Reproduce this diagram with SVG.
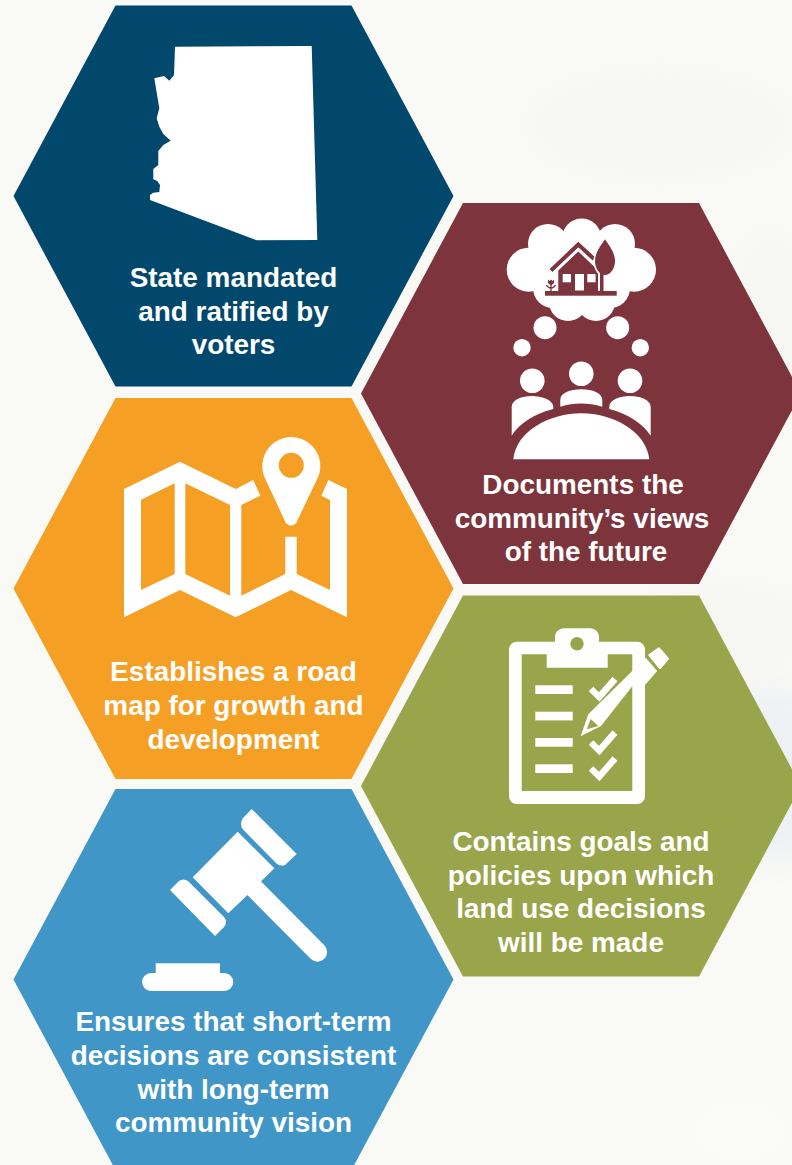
<svg xmlns="http://www.w3.org/2000/svg" width="792" height="1165" viewBox="0 0 792 1165">
<style>
.t{font-family:"Liberation Sans",Arial,sans-serif;font-weight:700;font-size:27.9px;fill:#fff;text-anchor:middle}
.w{fill:#fff}
</style>
<defs>
<polygon id="hex" points="-220,0 -118,-190.500 118,-190.500 220,0 118,190.500 -118,190.500"/>
<filter id="b" x="-50%" y="-50%" width="200%" height="200%"><feGaussianBlur stdDeviation="16"/></filter>
</defs>
<rect width="792" height="1165" fill="#f9f9f6"/>
<g id="background" filter="url(#b)">
<ellipse cx="660" cy="125" rx="130" ry="50" fill="#f6f7f3"/>
<ellipse cx="770" cy="320" rx="35" ry="90" fill="#f6f7f3"/>
<ellipse cx="720" cy="630" rx="90" ry="45" fill="#f6f6f2"/>
<ellipse cx="775" cy="775" rx="80" ry="85" fill="#edf1f4"/>
<ellipse cx="740" cy="1130" rx="50" ry="25" fill="#fcfcfa"/>
</g>
<g id="hex-state">
<use href="#hex" x="233.500" y="196" fill="#02476c"/>
<path class="w" d="M175 46.700L311.700 46L317.300 240L256.700 240.300L150 200L150 195L153.300 192.700L159.300 192L160 185L157.300 181L153.300 179.300L153.300 169L158.300 165L158.300 151L163.300 145L170.700 140.700L163.300 134L159.300 126.700L156.700 118.300L159.300 108.300L154.300 78.300L164 76L169.300 80.700L174 75Z"/>
<text class="t" x="233.500" y="287">State mandated</text>
<text class="t" x="233.500" y="321">and ratified by</text>
<text class="t" x="233.500" y="354">voters</text>
</g>
<g id="hex-community">
<use href="#hex" x="581" y="393.500" fill="#7d343c"/>
<g class="w">
<circle cx="581.700" cy="238" r="19.500"/><circle cx="548" cy="244" r="20"/><circle cx="615" cy="244" r="20"/>
<circle cx="528.700" cy="269.700" r="22"/><circle cx="634" cy="269.700" r="22"/>
<circle cx="553" cy="288" r="20"/><circle cx="610" cy="288" r="20"/>
<circle cx="568" cy="302" r="19"/><circle cx="596" cy="302" r="19"/>
<rect x="540" y="240" width="84" height="60"/>
<circle cx="545" cy="327.700" r="11.500"/><circle cx="617.700" cy="327.700" r="11.500"/>
<circle cx="522" cy="347.700" r="8.700"/><circle cx="640.300" cy="347.700" r="8.700"/>
<circle cx="532.300" cy="380.700" r="12.300"/><circle cx="581.300" cy="373.700" r="12.300"/><circle cx="630" cy="380.700" r="12.300"/>
<path d="M511.700 435.700V406.700C511.700 400 522 396 531.700 396S553.300 400 553.300 406.700V409C534 414 520 423 511.700 435.700Z"/>
<path d="M650.700 435.700V406.700C650.700 400 640 396 630 396S609.300 400 609.300 406.700V409C628 414 642 423 650.700 435.700Z"/>
<path d="M560.300 406.700V400C560.300 393 570 389.300 581.300 389.300S602.300 393 602.300 400V406.700C588 402.500 574 402.500 560.300 406.700Z"/>
<path d="M513.300 459.300C516 431 550 413.300 581.300 413.300S646 431 649.300 459.300Z"/>
</g>
<g fill="#7d343c">
<rect x="545" y="291" width="71.700" height="4.700"/>
<path d="M558.300 291V270.500L578.300 251.500L598.300 270.500V291Z"/>
<path d="M551 270.500L578.300 244.500L594 259" fill="none" stroke="#7d343c" stroke-width="4"/>
<path d="M605 238C600 245 593.500 252 593.500 261C593.500 270 599 277 605 277S616.500 270 616.500 261C616.500 252 610 245 605 238Z" fill="#fff"/>
<rect x="598" y="272" width="8" height="19" fill="#fff"/>
<path d="M605 239.300C600.500 246 595 252.500 595 261C595 269 600 275 605 275S615 269 615 261C615 252.500 609.500 246 605 239.300Z"/>
<rect x="600" y="272" width="3.500" height="20"/>
<path d="M551 282.500V291M546.500 285C548 288 550 288 551 288C552 288 554 288 555.500 285" fill="none" stroke="#7d343c" stroke-width="1.300"/>
<path d="M548 279.500L549.500 281L551 279.500L552.500 281L554 279.500V283L551 285.500L548 283Z"/>
</g>
<g class="w"><rect x="562.700" y="274" width="8.300" height="8.300"/><rect x="575" y="274" width="9" height="16.500"/><rect x="587.300" y="274" width="8.300" height="8.300"/></g>
<text class="t" x="583" y="494">Documents the</text>
<text class="t" x="582" y="528">community’s views</text>
<text class="t" x="586" y="561">of the future</text>
</g>
<g id="hex-roadmap">
<use href="#hex" x="233.500" y="588.500" fill="#f5a025"/>
<path class="w" fill-rule="evenodd" d="M124 489L180 461.700L235.700 489L253.300 480L260.300 495.700L241.300 505V595.700L285.300 574V536.700H296.700V574L330 590V500L321.300 495.700L328.300 480L347 489V617.300L291 590L235.700 617.300L180 590L124 617.300ZM141 499.700V590L174.700 574V483.300ZM185.300 483.300V574L230 595.700V505Z"/>
<path class="w" fill-rule="evenodd" d="M264.300 476.700A29 29 0 1 1 318.300 476.700L296.300 522.700Q291 529 285.700 522.700ZM278.800 465.300A12.500 12.500 0 1 0 303.800 465.300A12.500 12.500 0 1 0 278.800 465.300Z"/>
<text class="t" x="233.500" y="681">Establishes a road</text>
<text class="t" x="233.500" y="715">map for growth and</text>
<text class="t" x="233.500" y="749">development</text>
</g>
<g id="hex-goals">
<use href="#hex" x="581" y="786" fill="#99a54b"/>
<path class="w" fill-rule="evenodd" d="M517 641.700H555V637C555 632 559 628.300 564 628.300H590C595 628.300 599 632 599 637V641.700H637C641.500 641.700 645 645 645 649.700V796C645 800.500 641.500 804 637 804H517C512.500 804 509 800.500 509 796V649.700C509 645 512.500 641.700 517 641.700ZM521.700 654.300V791H632.300V654.300H607.700V667.700H546.700V654.300ZM570.300 643.700A6.700 6.700 0 1 0 583.700 643.700A6.700 6.700 0 1 0 570.300 643.700Z"/>
<g class="w"><rect x="535.300" y="685.300" width="37.400" height="8.700"/><rect x="535.300" y="711.700" width="37.400" height="8.700"/><rect x="535.300" y="738" width="37.400" height="8.700"/><rect x="535.300" y="764.300" width="37.400" height="8.700"/></g>
<g fill="none" stroke="#fff" stroke-width="6.500">
<path d="M591 689L599.300 697L615 679"/><path d="M591 742.500L599.300 750.500L615 732.500"/><path d="M591 768.500L599.300 776.500L615 758.500"/>
</g>
<path class="w" stroke="#fff" stroke-width="2" stroke-linejoin="round" d="M659 648.300L668 658.700L660 668L649.300 655Z"/>
<path class="w" fill-rule="evenodd" d="M645.700 657.700L657.200 671L645 685V670L601 726L580.700 736.300L588.300 714.300ZM590.700 719L586.700 729.300L598.300 726Z"/>
<text class="t" x="581" y="851">Contains goals and</text>
<text class="t" x="581" y="885">policies upon which</text>
<text class="t" x="581" y="918">land use decisions</text>
<text class="t" x="581" y="952">will be made</text>
</g>
<g id="hex-vision">
<use href="#hex" x="233.500" y="979.500" fill="#4096c6"/>
<path class="w" d="M237.700 831.700L274.300 868.300L260.700 881.700L246.700 895.700L228.300 913.300L192.700 877.300Z"/>
<path d="M254 888L317.500 952" stroke="#fff" stroke-width="19.300" stroke-linecap="round" fill="none"/>
<path class="w" d="M251.700 809L296.700 854L285 865Q281 866.500 277 864L243 829.500Q239 824 243 818Z"/>
<path class="w" d="M170 890L179 881Q183 878 188 881L224 917Q228 922 224 927L215 936Z"/>
<rect class="w" x="142" y="973" width="91.300" height="18" rx="9"/>
<rect class="w" x="155.700" y="963.300" width="64.300" height="11"/>
<text class="t" x="233.500" y="1031">Ensures that short-term</text>
<text class="t" x="233.500" y="1065">decisions are consistent</text>
<text class="t" x="233.500" y="1099">with long-term</text>
<text class="t" x="233.500" y="1132">community vision</text>
</g>
</svg>
